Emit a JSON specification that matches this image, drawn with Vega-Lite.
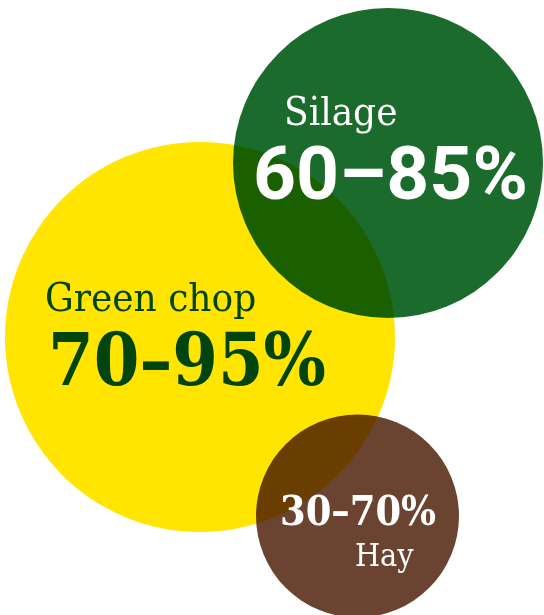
{
  "$schema": "https://vega.github.io/schema/vega-lite/v6.json",
  "width": 544,
  "height": 615,
  "padding": 0,
  "autosize": {"type": "none"},
  "background": "white",
  "config": {"view": {"stroke": null}},
  "datasets": {
    "circles": [
      {"feed": "Green chop", "cx": 200, "cy": 337, "area": 152100},
      {"feed": "Silage", "cx": 388, "cy": 163, "area": 96100},
      {"feed": "Hay", "cx": 357.5, "cy": 516, "area": 41209}
    ],
    "labels": [
      {"text": "Green chop", "kind": "name", "feed": "Green chop", "x": 45, "y": 311, "fs": 40},
      {"text": "Silage", "kind": "name", "feed": "Silage", "x": 284, "y": 125, "fs": 40},
      {"text": "Hay", "kind": "name", "feed": "Hay", "x": 355, "y": 566, "fs": 32},
      {"text": "70–95%", "kind": "slab", "feed": "Green chop", "x": 48, "y": 385, "fs": 73},
      {"text": "30–70%", "kind": "slab", "feed": "Hay", "x": 280, "y": 525, "fs": 41},
      {"text": "60–85%", "kind": "sans", "feed": "Silage", "x": 253, "y": 199, "fs": 75}
    ]
  },
  "encoding": {
    "x": {"type": "quantitative", "scale": {"domain": [0, 544]}, "axis": null},
    "y": {"type": "quantitative", "scale": {"domain": [615, 0]}, "axis": null}
  },
  "layer": [
    {
      "data": {"name": "circles"},
      "mark": {"type": "circle", "opacity": 1, "blend": "multiply"},
      "encoding": {
        "x": {"field": "cx", "type": "quantitative"},
        "y": {"field": "cy", "type": "quantitative"},
        "size": {"field": "area", "type": "quantitative", "scale": null, "legend": null},
        "color": {"field": "feed", "type": "nominal", "legend": null,
          "scale": {"domain": ["Green chop", "Silage", "Hay"], "range": ["#FFE500", "#1B6B2D", "#6A4430"]}}
      }
    },
    {
      "data": {"name": "labels"},
      "transform": [{"filter": "datum.kind == 'name'"}],
      "mark": {"type": "text", "align": "left", "baseline": "alphabetic", "font": "DejaVu Serif Condensed", "fontWeight": "normal"},
      "encoding": {
        "x": {"field": "x", "type": "quantitative"},
        "y": {"field": "y", "type": "quantitative"},
        "text": {"field": "text"},
        "size": {"field": "fs", "type": "quantitative", "scale": null, "legend": null},
        "color": {"field": "feed", "type": "nominal", "legend": null,
          "scale": {"domain": ["Green chop", "Silage", "Hay"], "range": ["#00450F", "#FFFFFF", "#FFFFFF"]}}
      }
    },
    {
      "data": {"name": "labels"},
      "transform": [{"filter": "datum.kind == 'slab'"}],
      "mark": {"type": "text", "align": "left", "baseline": "alphabetic", "font": "DejaVu Serif Condensed", "fontWeight": "bold"},
      "encoding": {
        "x": {"field": "x", "type": "quantitative"},
        "y": {"field": "y", "type": "quantitative"},
        "text": {"field": "text"},
        "size": {"field": "fs", "type": "quantitative", "scale": null, "legend": null},
        "color": {"field": "feed", "type": "nominal", "legend": null,
          "scale": {"domain": ["Green chop", "Silage", "Hay"], "range": ["#00450F", "#FFFFFF", "#FFFFFF"]}}
      }
    },
    {
      "data": {"name": "labels"},
      "transform": [{"filter": "datum.kind == 'sans'"}],
      "mark": {"type": "text", "align": "left", "baseline": "alphabetic", "font": "Roboto", "fontWeight": "bold"},
      "encoding": {
        "x": {"field": "x", "type": "quantitative"},
        "y": {"field": "y", "type": "quantitative"},
        "text": {"field": "text"},
        "size": {"field": "fs", "type": "quantitative", "scale": null, "legend": null},
        "color": {"field": "feed", "type": "nominal", "legend": null,
          "scale": {"domain": ["Green chop", "Silage", "Hay"], "range": ["#00450F", "#FFFFFF", "#FFFFFF"]}}
      }
    }
  ],
  "resolve": {"scale": {"color": "independent"}}
}
